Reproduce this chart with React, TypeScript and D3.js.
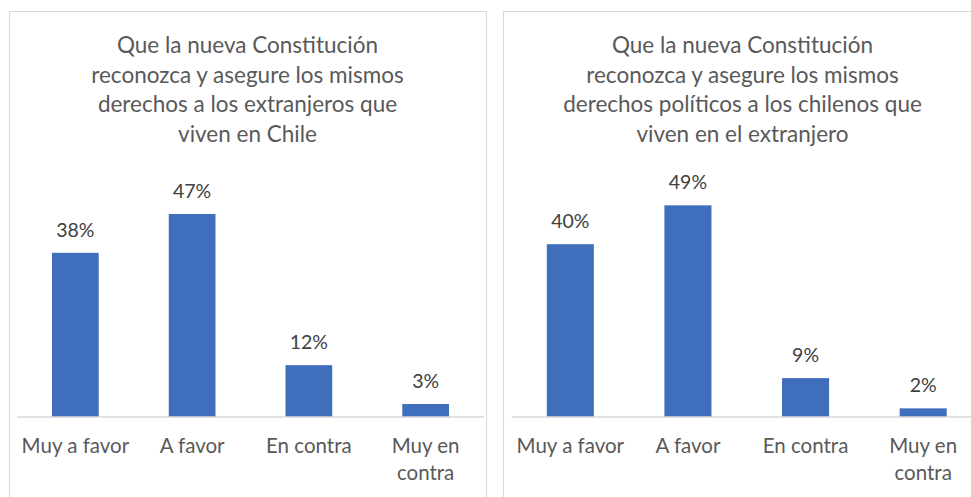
import React from "react";
import * as d3 from "d3";

const categories = ["Muy a favor", "A favor", "En contra", "Muy en contra"];
const categoryLines = [["Muy a favor"], ["A favor"], ["En contra"], ["Muy en", "contra"]];
const valuesLeft = [0.38, 0.47, 0.12, 0.03];
const valuesRight = [0.40, 0.49, 0.09, 0.02];
const titleLeft = [
  "Que la nueva Constitución",
  "reconozca y asegure los mismos",
  "derechos a los extranjeros que",
  "viven en Chile",
];
const titleRight = [
  "Que la nueva Constitución",
  "reconozca y asegure los mismos",
  "derechos políticos a los chilenos que",
  "viven en el extranjero",
];

const W = 971;
const H = 497;
const FONT = "Lato, 'Open Sans', sans-serif";
const BAR = "#3F6EBC";

type PanelProps = {
  x0: number;
  x1: number;
  axisX0: number;
  axisX1: number;
  title: string[];
  values: number[];
};

function Panel({ x0, x1, axisX0, axisX1, title, values }: PanelProps) {
  const baseline = 417;
  const x = d3
    .scaleBand<string>()
    .domain(categories)
    .range([axisX0, axisX1])
    .paddingInner(0.6)
    .paddingOuter(0.3);
  const y = d3.scaleLinear().domain([0, 0.5]).range([baseline, 201]);
  const cx = (x0 + x1) / 2;
  const fmt = d3.format(".0%");
  return (
    <g>
      <rect x={x0 + 0.5} y={11.5} width={x1 - x0} height={600} fill="#fff" stroke="#d9d9d9" strokeWidth={1} />
      <text textAnchor="middle" fontFamily={FONT} fontSize={22.5} fill="#595959">
        {title.map((t, i) => (
          <tspan key={i} x={cx} y={53 + i * 29.7}>
            {t}
          </tspan>
        ))}
      </text>
      {values.map((v, i) => {
        const c = categories[i];
        const bx = x(c)!;
        return (
          <g key={c}>
            <rect x={bx} y={y(v)} width={x.bandwidth()} height={baseline - y(v)} fill={BAR} />
            <text
              x={bx + x.bandwidth() / 2}
              y={y(v) - 16}
              textAnchor="middle"
              fontFamily={FONT}
              fontSize={19.5}
              fill="#404040"
            >
              {fmt(v)}
            </text>
          </g>
        );
      })}
      <line x1={axisX0} x2={axisX1} y1={baseline} y2={baseline} stroke="#d9d9d9" strokeWidth={1.5} />
      {categories.map((c, i) => (
        <text
          key={c}
          textAnchor="middle"
          fontFamily={FONT}
          fontSize={20.5}
          fill="#595959"
        >
          {categoryLines[i].map((t, j) => (
            <tspan key={j} x={x(c)! + x.bandwidth() / 2} y={453 + j * 27}>
              {t}
            </tspan>
          ))}
        </text>
      ))}
    </g>
  );
}

export default function App() {
  return (
    <svg
      width={W}
      height={H}
      style={{ position: "absolute", left: 0, top: 0, background: "#fff" }}
    >
      <rect x={0} y={0} width={W} height={H} fill="#fff" />
      <Panel x0={9} x1={486} axisX0={17} axisX1={484} title={titleLeft} values={valuesLeft} />
      <Panel x0={503} x1={982} axisX0={511.5} axisX1={982} title={titleRight} values={valuesRight} />
    </svg>
  );
}
